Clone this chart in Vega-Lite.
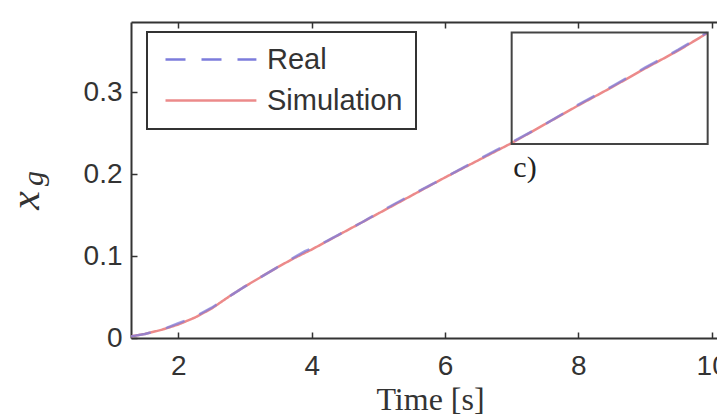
{
  "$schema": "https://vega.github.io/schema/vega-lite/v6.json",
  "width": 600,
  "height": 316,
  "autosize": {"type": "none"},
  "padding": {"left": 131, "top": 22, "right": 0, "bottom": 78},
  "background": "white",
  "config": {
    "view": {"stroke": null},
    "axis": {
      "grid": false,
      "domainColor": "#333333",
      "domainWidth": 2,
      "tickColor": "#333333",
      "tickWidth": 1.5,
      "labelColor": "#333333",
      "labelFont": "Liberation Sans",
      "labelFontSize": 28,
      "titleColor": "#333333",
      "titleFontWeight": "normal"
    }
  },
  "datasets": {
    "simulation": [
      {"t": 1.29, "xg": 0.002, "series": "Simulation"},
      {"t": 1.5, "xg": 0.005, "series": "Simulation"},
      {"t": 1.75, "xg": 0.010, "series": "Simulation"},
      {"t": 2.0, "xg": 0.0165, "series": "Simulation"},
      {"t": 2.25, "xg": 0.025, "series": "Simulation"},
      {"t": 2.5, "xg": 0.036, "series": "Simulation"},
      {"t": 2.75, "xg": 0.050, "series": "Simulation"},
      {"t": 3.0, "xg": 0.063, "series": "Simulation"},
      {"t": 3.25, "xg": 0.075, "series": "Simulation"},
      {"t": 3.5, "xg": 0.087, "series": "Simulation"},
      {"t": 3.75, "xg": 0.098, "series": "Simulation"},
      {"t": 4.0, "xg": 0.108, "series": "Simulation"},
      {"t": 4.5, "xg": 0.130, "series": "Simulation"},
      {"t": 5.0, "xg": 0.152, "series": "Simulation"},
      {"t": 5.5, "xg": 0.174, "series": "Simulation"},
      {"t": 6.0, "xg": 0.196, "series": "Simulation"},
      {"t": 6.5, "xg": 0.217, "series": "Simulation"},
      {"t": 7.0, "xg": 0.238, "series": "Simulation"},
      {"t": 7.5, "xg": 0.261, "series": "Simulation"},
      {"t": 8.0, "xg": 0.284, "series": "Simulation"},
      {"t": 8.5, "xg": 0.306, "series": "Simulation"},
      {"t": 9.0, "xg": 0.329, "series": "Simulation"},
      {"t": 9.5, "xg": 0.351, "series": "Simulation"},
      {"t": 9.93, "xg": 0.372, "series": "Simulation"}
    ],
    "real": [
      {"t": 1.29, "xg": 0.002, "series": "Real"},
      {"t": 1.5, "xg": 0.005, "series": "Real"},
      {"t": 1.75, "xg": 0.010, "series": "Real"},
      {"t": 2.0, "xg": 0.018, "series": "Real"},
      {"t": 2.25, "xg": 0.026, "series": "Real"},
      {"t": 2.5, "xg": 0.037, "series": "Real"},
      {"t": 2.75, "xg": 0.050, "series": "Real"},
      {"t": 3.0, "xg": 0.063, "series": "Real"},
      {"t": 3.25, "xg": 0.075, "series": "Real"},
      {"t": 3.5, "xg": 0.087, "series": "Real"},
      {"t": 3.75, "xg": 0.099, "series": "Real"},
      {"t": 3.9, "xg": 0.106, "series": "Real"},
      {"t": 4.1, "xg": 0.113, "series": "Real"},
      {"t": 4.4, "xg": 0.126, "series": "Real"},
      {"t": 4.75, "xg": 0.141, "series": "Real"},
      {"t": 5.0, "xg": 0.153, "series": "Real"},
      {"t": 5.5, "xg": 0.175, "series": "Real"},
      {"t": 6.0, "xg": 0.196, "series": "Real"},
      {"t": 6.5, "xg": 0.218, "series": "Real"},
      {"t": 7.0, "xg": 0.239, "series": "Real"},
      {"t": 7.5, "xg": 0.261, "series": "Real"},
      {"t": 8.0, "xg": 0.285, "series": "Real"},
      {"t": 8.5, "xg": 0.307, "series": "Real"},
      {"t": 9.0, "xg": 0.330, "series": "Real"},
      {"t": 9.5, "xg": 0.352, "series": "Real"},
      {"t": 9.93, "xg": 0.373, "series": "Real"}
    ],
    "zoomBox": [
      {"t0": 7.0, "t1": 9.94, "y0": 0.237, "y1": 0.373}
    ],
    "notes": [
      {"t": 7.2, "xg": 0.207, "text": "c)"}
    ]
  },
  "layer": [
    {
      "data": {"name": "simulation"},
      "mark": {"type": "line", "strokeWidth": 2.5},
      "encoding": {
        "x": {
          "field": "t", "type": "quantitative",
          "scale": {"domain": [1.29, 10.29], "nice": false, "zero": false},
          "axis": {
            "orient": "bottom", "values": [2, 4, 6, 8, 10], "format": "d",
            "tickSize": -6, "labelPadding": 20,
            "title": "Time [s]", "titleFont": "Liberation Serif", "titleFontSize": 32,
            "titleX": 299, "titleY": 71, "titleAlign": "center", "titleBaseline": "alphabetic"
          }
        },
        "y": {
          "field": "xg", "type": "quantitative",
          "scale": {"domain": [0, 0.3858], "nice": false, "zero": false},
          "axis": {
            "orient": "left", "values": [0, 0.1, 0.2, 0.3], "format": "~g",
            "tickSize": -6, "labelPadding": 15,
            "title": "x", "titleFont": "Liberation Serif", "titleFontStyle": "italic", "titleFontSize": 42,
            "titleAngle": 270, "titleX": -93, "titleY": 178, "titleAlign": "center", "titleBaseline": "alphabetic"
          }
        },
        "color": {
          "field": "series", "type": "nominal",
          "scale": {"domain": ["Real", "Simulation"], "range": ["#7c7cdc", "#ec8a8a"]},
          "legend": {
            "title": null, "orient": "none", "legendX": 16, "legendY": 10,
            "symbolType": "M-1,0H9.1", "symbolSize": 324, "symbolStrokeWidth": 2.5,
            "labelFont": "Liberation Sans", "labelFontSize": 29, "labelColor": "#333333",
            "labelOffset": 78, "rowPadding": 11, "padding": 13,
            "strokeColor": "#333333", "fillColor": "white",
            "encode": {"legend": {"update": {"strokeWidth": {"value": 2}}}}
          }
        },
        "strokeDash": {
          "field": "series", "type": "nominal",
          "scale": {"domain": ["Real", "Simulation"], "range": [[20, 16], [1, 0]]},
          "legend": {
            "title": null, "orient": "none", "legendX": 16, "legendY": 10,
            "symbolType": "M-1,0H9.1", "symbolSize": 324, "symbolStrokeWidth": 2.5,
            "labelFont": "Liberation Sans", "labelFontSize": 29, "labelColor": "#333333",
            "labelOffset": 78, "rowPadding": 11, "padding": 13,
            "strokeColor": "#333333", "fillColor": "white",
            "encode": {"legend": {"update": {"strokeWidth": {"value": 2}}}}
          }
        }
      }
    },
    {
      "data": {"name": "real"},
      "mark": {"type": "line", "strokeWidth": 2.5, "opacity": 0.75},
      "encoding": {
        "x": {
          "field": "t", "type": "quantitative",
          "scale": {"domain": [1.29, 10.29], "nice": false, "zero": false},
          "axis": {
            "orient": "top", "values": [2, 4, 6, 8, 10], "tickSize": -6,
            "labels": false,
            "title": "g", "titleFont": "Liberation Serif", "titleFontStyle": "italic", "titleFontSize": 30,
            "titleAngle": 270, "titleX": -89, "titleY": 156, "titleAlign": "center", "titleBaseline": "alphabetic"
          }
        },
        "y": {
          "field": "xg", "type": "quantitative",
          "scale": {"domain": [0, 0.3858], "nice": false, "zero": false},
          "axis": null
        },
        "color": {"field": "series", "type": "nominal"},
        "strokeDash": {"field": "series", "type": "nominal"}
      }
    },
    {
      "data": {"name": "zoomBox"},
      "mark": {"type": "rect", "fill": null, "stroke": "#444444", "strokeWidth": 2},
      "encoding": {
        "x": {"field": "t0", "type": "quantitative", "axis": null},
        "x2": {"field": "t1"},
        "y": {"field": "y0", "type": "quantitative", "axis": null},
        "y2": {"field": "y1"}
      }
    },
    {
      "data": {"name": "notes"},
      "mark": {"type": "text", "font": "Liberation Serif", "fontSize": 30, "color": "#222222", "align": "center", "baseline": "middle"},
      "encoding": {
        "x": {"field": "t", "type": "quantitative", "axis": null},
        "y": {"field": "xg", "type": "quantitative", "axis": null},
        "text": {"field": "text"}
      }
    }
  ],
  "resolve": {"axis": {"x": "independent", "y": "independent"}}
}
